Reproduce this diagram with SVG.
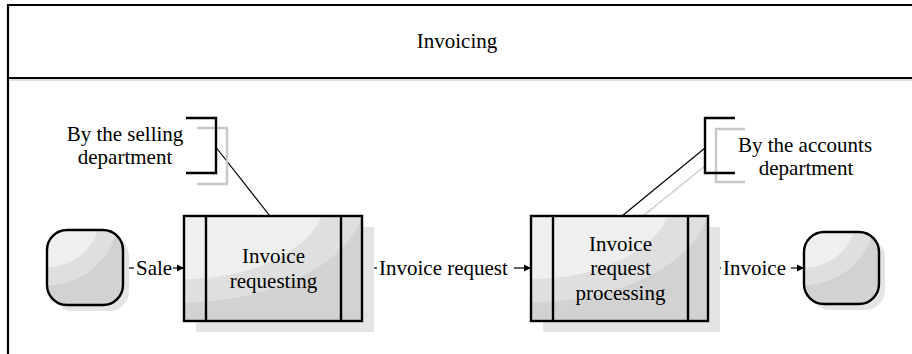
<svg xmlns="http://www.w3.org/2000/svg" width="912" height="354" viewBox="0 0 912 354">
<style>
  .frame { stroke: #000; stroke-width: 2.2; fill: none; }
  .shape { stroke: #000; stroke-width: 2.4; }
  .strip { stroke: #000; stroke-width: 2.4; }
  .shadow { fill: #e4e4e4; stroke: none; }
  .conn { stroke: #000; stroke-width: 1.2; fill: none; }
  .bracket { stroke: #000; stroke-width: 2.4; fill: none; }
  .bracket-shadow { stroke: #c8c8c8; stroke-width: 2.4; fill: none; }
</style>
<defs>
  <radialGradient id="gBox" cx="0" cy="-0.2" r="1.2" fx="0" fy="-0.2">
    <stop offset="0" stop-color="#efefef"/>
    <stop offset="0.667" stop-color="#efefef"/>
    <stop offset="0.667" stop-color="#dfdfdf"/>
    <stop offset="0.85" stop-color="#dfdfdf"/>
    <stop offset="0.85" stop-color="#d2d2d2"/>
    <stop offset="1" stop-color="#d2d2d2"/>
  </radialGradient>
  <radialGradient id="gNode" cx="0" cy="-0.2" r="1.2" fx="0" fy="-0.2">
    <stop offset="0" stop-color="#efefef"/>
    <stop offset="0.58" stop-color="#efefef"/>
    <stop offset="0.58" stop-color="#dfdfdf"/>
    <stop offset="0.78" stop-color="#dfdfdf"/>
    <stop offset="0.78" stop-color="#d2d2d2"/>
    <stop offset="1" stop-color="#d2d2d2"/>
  </radialGradient>
  <marker id="arrow" markerWidth="8" markerHeight="8" refX="7" refY="4" orient="auto" markerUnits="userSpaceOnUse">
    <path d="M0,0.5 L7,4 L0,7.5 Z" fill="#000"/>
  </marker>
</defs>

<g font-family="'Liberation Serif', 'Times New Roman', Tinos, 'DejaVu Serif', serif" font-size="21px" fill="#000">

<g id="frame">
  <line x1="8" y1="5" x2="912" y2="5" class="frame"/>
  <line x1="8" y1="4" x2="8" y2="354" class="frame"/>
  <line x1="8" y1="78" x2="912" y2="78" class="frame"/>
  <line x1="10" y1="80" x2="912" y2="80" stroke="#bdbdbd" stroke-width="1"/>
  <text x="457" y="48" text-anchor="middle">Invoicing</text>
</g>

<g id="connectors">
  <line x1="123" y1="268" x2="134" y2="268" class="conn"/>
  <line x1="173" y1="268" x2="184" y2="268" class="conn" marker-end="url(#arrow)"/>
  <line x1="362" y1="268" x2="377" y2="268" class="conn"/>
  <line x1="514" y1="268" x2="531" y2="268" class="conn" marker-end="url(#arrow)"/>
  <line x1="708" y1="268" x2="721" y2="268" class="conn"/>
  <line x1="791" y1="268" x2="804" y2="268" class="conn" marker-end="url(#arrow)"/>
  <line x1="216.5" y1="148" x2="270" y2="216" class="conn"/>
  <line x1="705" y1="166" x2="643" y2="216" stroke="#c8c8c8" stroke-width="1.2"/>
  <line x1="705" y1="148" x2="622" y2="216" class="conn"/>
</g>

<g id="labels">
  <text x="136" y="275">Sale</text>
  <text x="379" y="275">Invoice request</text>
  <text x="723" y="275">Invoice</text>
</g>

<g id="start">
  <rect x="53" y="236" width="76" height="75" rx="20" class="shadow"/>
  <rect x="47" y="230" width="76" height="75" rx="20" fill="url(#gNode)" class="shape"/>
</g>

<g id="invoice-requesting">
  <rect x="196" y="227" width="178" height="105" class="shadow"/>
  <rect x="184" y="216" width="178" height="105" fill="url(#gBox)" class="shape"/>
  <line x1="206" y1="216" x2="206" y2="321" class="strip"/>
  <line x1="341" y1="216" x2="341" y2="321" class="strip"/>
  <text x="273.5" y="263" text-anchor="middle">Invoice</text>
  <text x="273.5" y="288" text-anchor="middle">requesting</text>
</g>

<g id="invoice-request-processing">
  <rect x="543" y="227" width="177" height="105" class="shadow"/>
  <rect x="531" y="216" width="177" height="105" fill="url(#gBox)" class="shape"/>
  <line x1="553" y1="216" x2="553" y2="321" class="strip"/>
  <line x1="688" y1="216" x2="688" y2="321" class="strip"/>
  <text x="620.5" y="251" text-anchor="middle">Invoice</text>
  <text x="620.5" y="275" text-anchor="middle">request</text>
  <text x="620.5" y="300" text-anchor="middle">processing</text>
</g>

<g id="end">
  <rect x="810" y="238" width="75" height="72" rx="20" class="shadow"/>
  <rect x="804" y="232" width="75" height="72" rx="20" fill="url(#gNode)" class="shape"/>
</g>

<g id="note-selling">
  <path d="M197,128 H227 V184 H197" class="bracket-shadow"/>
  <path d="M186,118 H216 V173 H186" class="bracket"/>
  <text x="125" y="141" text-anchor="middle">By the selling</text>
  <text x="125" y="164" text-anchor="middle">department</text>
</g>

<g id="note-accounts">
  <path d="M745,129 H716 V182 H745" class="bracket-shadow"/>
  <path d="M735,118 H705 V173 H735" class="bracket"/>
  <text x="805" y="152" text-anchor="middle">By the accounts</text>
  <text x="806" y="175" text-anchor="middle">department</text>
</g>

</g>
</svg>
